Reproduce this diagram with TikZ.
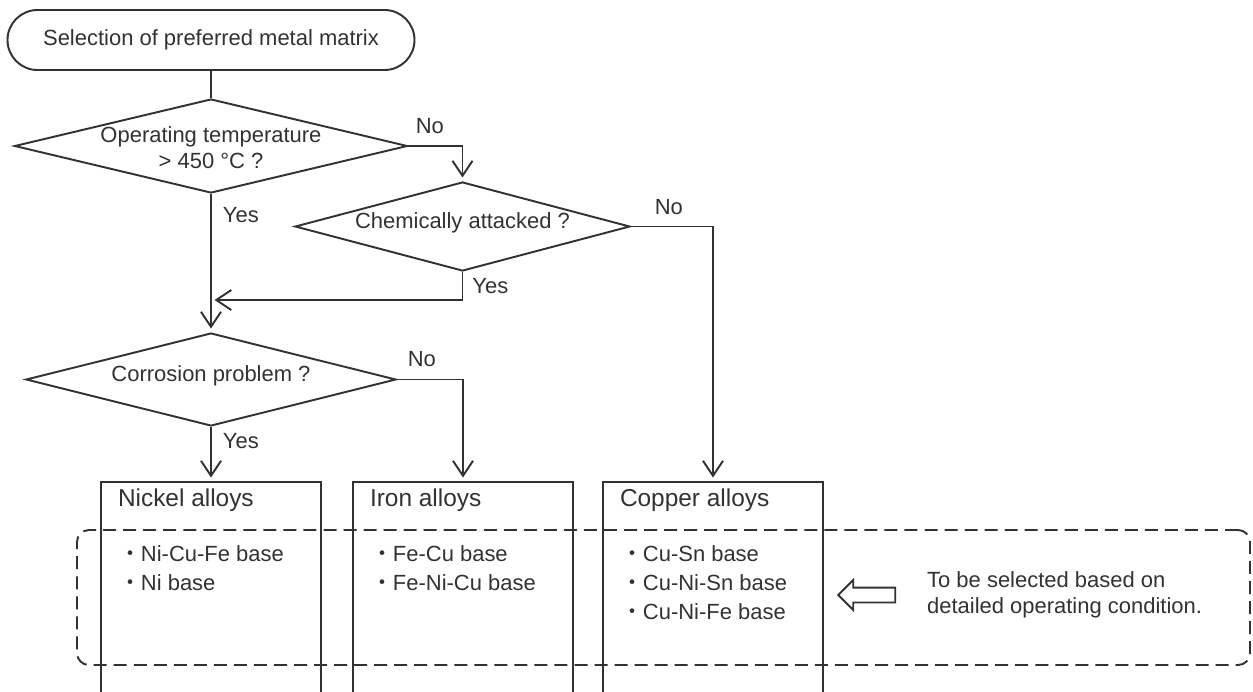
\documentclass[tikz,border=0pt]{standalone}
\usepackage{fontspec}
\setmainfont{Liberation Sans}
\newfontfamily\cjk{Noto Sans CJK JP}
\usetikzlibrary{arrows.meta, positioning, shapes.geometric, shapes.misc, shapes.arrows}
\definecolor{ink}{RGB}{50,50,50}

\begin{document}
\begin{tikzpicture}[-,>={Straight Barb[length=3mm,width=4mm]},line width=1.1pt,
  node distance=2cm,on grid,
  every node/.style={font=\fontsize{12.5}{14.8}\selectfont,text=ink,inner sep=0pt},
  start node/.style={rounded rectangle,draw=ink,minimum width=8.14cm,minimum height=1.2cm},
  decision/.style={diamond,draw=ink},
  alloy box/.style={rectangle,draw=ink,minimum width=4.4cm,minimum height=4.8cm},
  box title/.style={font=\fontsize{13.9}{16}\selectfont},
  box list/.style={align=left,font=\fontsize{12.5}{16.4}\selectfont},
  flow/.style={->,draw=ink,shorten >=2pt}]
  \useasboundingbox (0,0) rectangle (25.06,-13.82);
  \clip (0,0) rectangle (25.06,-13.82);

  \node[start node] (start) at (4.22,-0.80) {Selection of preferred metal matrix};
  \node[decision,minimum width=7.86cm,minimum height=1.88cm] (temp) [below=2.12cm of start] {};
  \node[decision,minimum width=6.70cm,minimum height=1.78cm] (chem) [below right=1.61cm and 5.03cm of temp] {};
  \node[decision,minimum width=7.40cm,minimum height=1.86cm] (corr) [below=4.67cm of temp] {};
  \node[align=center] (temp text) at ([yshift=-0.04cm]temp) {Operating temperature\\> 450 °C ?};
  \node (chem text) at ([yshift=0.08cm]chem) {Chemically attacked ?};
  \node (corr text) at ([yshift=0.08cm]corr) {Corrosion problem ?};

  \node[alloy box] (nickel) [below=4.45cm of corr] {};
  \node[alloy box] (iron) [right=5.04cm of nickel] {};
  \node[alloy box] (copper) [right=5.0cm of iron] {};
  \node[box title,anchor=base west] (nickel title) at ([xshift=0.34cm,yshift=-0.5cm]nickel.north west) {Nickel alloys};
  \node[box title,anchor=base west] (iron title) at ([xshift=0.34cm,yshift=-0.5cm]iron.north west) {Iron alloys};
  \node[box title,anchor=base west] (copper title) at ([xshift=0.34cm,yshift=-0.5cm]copper.north west) {Copper alloys};
  \node[box list,anchor=north west] (nickel list) at ([xshift=0.36cm,yshift=-1.28cm]nickel.north west)
    {{\cjk ・}Ni-Cu-Fe base\\{\cjk ・}Ni base};
  \node[box list,anchor=north west] (iron list) at ([xshift=0.36cm,yshift=-1.28cm]iron.north west)
    {{\cjk ・}Fe-Cu base\\{\cjk ・}Fe-Ni-Cu base};
  \node[box list,anchor=north west] (copper list) at ([xshift=0.36cm,yshift=-1.28cm]copper.north west)
    {{\cjk ・}Cu-Sn base\\{\cjk ・}Cu-Ni-Sn base\\{\cjk ・}Cu-Ni-Fe base};

  \node[draw=ink,dash pattern=on 7.4pt off 4pt,rounded corners=0.24cm,
    minimum width=23.46cm,minimum height=2.7cm] (frame) at (13.27,-11.95) {};
  \node[single arrow,draw=ink,shape border rotate=180,minimum height=1.14cm,
    text height=0.26cm,text depth=0pt,single arrow head extend=0.15cm] (hint) at (17.41,-11.90) {};
  \node[align=left,anchor=west] (note) at ([xshift=0.6cm]hint.tail)
    {To be selected based on\\detailed operating condition.};

  \coordinate (merge) at (temp.south |- 0,-6.0);
  \draw[draw=ink] (start.south) -- (temp.north);
  \draw[flow] (temp.east) -| node[pos=0.059,anchor=base west,yshift=0.26cm] (no1) {No} (chem.north);
  \draw[flow] (temp.south) -- node[pos=0.207,anchor=base west,xshift=0.22cm] (yes1) {Yes} (corr.north);
  \draw[flow] (chem.south) |- node[pos=0.379,anchor=base west,xshift=0.18cm] (yes2) {Yes} (merge);
  \draw[flow] (chem.east) -| node[pos=0.139,anchor=base west,yshift=0.24cm] (no2) {No} (copper.north);
  \draw[flow] (corr.east) -| node[pos=0.075,anchor=base west,yshift=0.27cm] (no3) {No} (iron.north);
  \draw[flow] (corr.south) -- node[pos=0.393,anchor=base west,xshift=0.22cm] (yes3) {Yes} (nickel.north);
\end{tikzpicture}
\end{document}
